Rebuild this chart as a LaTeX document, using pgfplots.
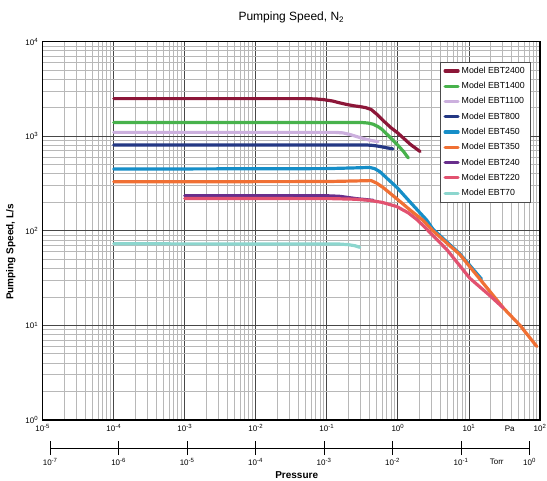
\documentclass[border=0pt]{standalone}
\usepackage{fontspec}
\setmainfont{Liberation Sans}
\usepackage{pgfplots}
\pgfplotsset{compat=1.18}
\definecolor{c2400}{RGB}{140,22,56}
\definecolor{c1400}{RGB}{72,178,76}
\definecolor{c1100}{RGB}{204,176,222}
\definecolor{c800}{RGB}{36,56,132}
\definecolor{c450}{RGB}{22,142,200}
\definecolor{c350}{RGB}{240,112,52}
\definecolor{c240}{RGB}{104,46,140}
\definecolor{c220}{RGB}{226,82,112}
\definecolor{c70}{RGB}{140,214,206}
\begin{document}
\begin{tikzpicture}
\useasboundingbox (-42.7pt,-60pt) rectangle (504.3pt,420pt);
\begin{axis}[
  at={(0pt,0pt)}, anchor=south west,
  scale only axis, width=497.3pt, height=378.3pt,
  xmode=log, ymode=log,
  xmin=1e-5, xmax=1e2, ymin=1, ymax=1e4,
  xtick={1e-5,1e-4,1e-3,1e-2,1e-1,1,10,100},
  xticklabels={10\textsuperscript{-5},10\textsuperscript{-4},10\textsuperscript{-3},10\textsuperscript{-2},10\textsuperscript{-1},10\textsuperscript{0},10\textsuperscript{1},10\textsuperscript{2}},
  ytick={1,10,100,1000,10000},
  yticklabels={10\textsuperscript{0},10\textsuperscript{1},10\textsuperscript{2},10\textsuperscript{3},10\textsuperscript{4}},
  grid=both,
  major grid style={black!72, line width=0.9pt},
  minor grid style={black!28, line width=0.9pt},
  major tick length=0pt, minor tick length=0pt,
  axis line style={black, line width=1.6pt},
  ticklabel style={font=\fontsize{8}{9}\selectfont},
  xticklabel style={yshift=-1pt},
  yticklabel style={xshift=-1pt},
  title={Pumping Speed, N\textsubscript{2}},
  title style={font=\fontsize{12}{14}\selectfont, yshift=9pt},
  legend style={at={(0.98,0.947)}, anchor=north east, draw=black!70, line width=0.5pt,
    font=\fontsize{8.8}{10}\selectfont, row sep=3.4pt, inner sep=3pt, fill=white},
  legend cell align=left,
  legend image code/.code={\draw[#1] (0pt,0pt) -- (13pt,0pt);},
  every axis plot/.append style={line width=3.2pt, line join=round, line cap=round},
]
\addplot[c2400] coordinates {(1e-4,2500) (0.05,2500) (0.07,2480) (0.09,2440) (0.12,2360) (0.15,2260) (0.19,2170) (0.24,2100) (0.29,2060) (0.35,2010) (0.42,1920) (0.5,1720) (0.6,1500) (0.8,1230) (1.0,1080) (1.5,820) (2.05,690)};
\addlegendentry{Model EBT2400}
\addplot[c1400] coordinates {(1e-4,1400) (0.25,1400) (0.32,1395) (0.38,1380) (0.45,1340) (0.52,1270) (0.6,1180) (0.75,1000) (0.96,830) (1.2,690) (1.4,590)};
\addlegendentry{Model EBT1400}
\addplot[c1100] coordinates {(1e-4,1100) (0.13,1100) (0.17,1085) (0.21,1045) (0.26,995) (0.32,950) (0.4,910) (0.525,875)};
\addlegendentry{Model EBT1100}
\addplot[c800] coordinates {(1e-4,810) (0.35,810) (0.45,800) (0.56,780) (0.7,755) (0.85,735)};
\addlegendentry{Model EBT800}
\addplot[c450] coordinates {(1e-4,450) (0.1,455) (0.3,465) (0.4,468) (0.47,455) (0.56,421) (0.7,360) (0.96,290) (1.5,200) (2.54,130) (3.12,104) (7.48,57) (15,31)};
\addlegendentry{Model EBT450}
\addplot[c350] coordinates {(1e-4,330) (0.1,332) (0.3,338) (0.42,340) (0.5,320) (0.62,287) (0.96,219) (1.5,165) (2.26,129) (3.12,100) (7.48,56) (30.5,15.3) (52.4,10) (90,6)};
\addlegendentry{Model EBT350}
\addplot[c240] coordinates {(1e-3,235) (0.1,235) (0.15,232) (0.26,219) (0.45,210)};
\addlegendentry{Model EBT240}
\addplot[c220] coordinates {(1e-3,220) (0.12,219) (0.25,216) (0.4,210) (0.6,200) (0.96,181) (1.4,155) (1.84,132) (2.26,114) (4.91,63) (10.35,31.4) (19.8,20.6) (30.5,15.3)};
\addlegendentry{Model EBT220}
\addplot[c70] coordinates {(1e-4,73) (0.15,72.5) (0.2,71.5) (0.25,69.5) (0.29,67)};
\addlegendentry{Model EBT70}
\end{axis}
\begin{axis}[
  at={(7.5pt,-28pt)}, anchor=south west,
  scale only axis, width=479.3pt, height=10pt,
  xmode=log, xmin=1e-7, xmax=1, ymin=0, ymax=1,
  axis x line=bottom, axis y line=none,
  x axis line style={-, black, line width=0.8pt},
  xtick={1e-7,1e-6,1e-5,1e-4,1e-3,1e-2,1e-1,1},
  xticklabels={10\textsuperscript{-7},10\textsuperscript{-6},10\textsuperscript{-5},10\textsuperscript{-4},10\textsuperscript{-3},10\textsuperscript{-2},10\textsuperscript{-1},10\textsuperscript{0}},
  tick align=center, major tick length=14pt, minor tick length=0pt,
  xtick style={black, line width=0.8pt},
  ticklabel style={font=\fontsize{8}{9}\selectfont},
]
\end{axis}
\node[font=\fontsize{8}{9}\selectfont] at (467pt,-9pt) {Pa};
\node[font=\fontsize{8}{9}\selectfont] at (454pt,-42pt) {Torr};
\node[font=\bfseries\fontsize{10}{12}\selectfont] at (254pt,-55pt) {Pressure};
\node[font=\bfseries\fontsize{10}{12}\selectfont, rotate=90] at (-32pt,168pt) {Pumping Speed, L/s};
\end{tikzpicture}
\end{document}
